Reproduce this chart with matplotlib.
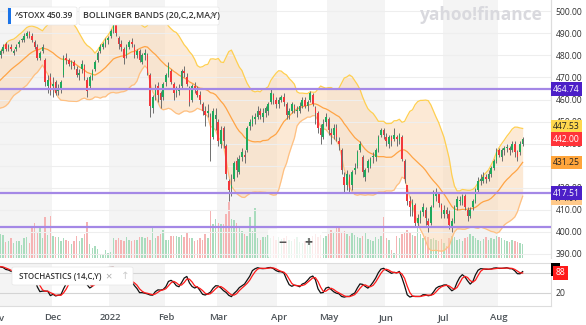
import numpy as np
import pandas as pd
import matplotlib
matplotlib.use('Agg')
import matplotlib.pyplot as plt
import matplotlib.patches as patches

plt.rcParams['font.family'] = ['Open Sans', 'DejaVu Sans']

# closes 2021-10-06 .. 2021-11-02, only used to start the indicators
close_warmup = [458, 460, 461, 460, 459, 462, 466, 467, 466, 468,
                469, 468, 470, 471, 473, 472, 473, 475, 477, 479]

# daily candles 2021-11-03 .. 2022-08-12 (Nov, Dec, Jan, ... Aug)
opens = [480, 482, 485, 484, 484, 481, 483, 485, 487, 487, 489, 490, 489, 486, 484, 479, 482, 478, 466, 470,
         466, 468, 464, 465, 471, 479, 478, 476, 477, 474, 471, 474, 475, 469, 466, 470, 474, 478, 482, 484, 485, 487,
         489, 491, 494, 488, 485, 483, 480, 484, 486, 484, 480, 482, 477, 480, 480, 471, 456, 462, 466, 463, 461,
         468, 471, 473, 467, 463, 464, 466, 473, 470, 465, 460, 466, 464, 462, 458, 455, 454, 452, 443, 451,
         450, 440, 447, 439, 423, 420, 424, 432, 427, 434, 435, 437, 448, 449, 451, 452, 455, 452, 454, 455, 459, 462, 460,
         458, 460, 461, 458, 453, 455, 457, 455, 455, 457, 460, 457, 460, 462, 456, 454, 447, 443, 450,
         451, 445, 444, 447, 441, 437, 425, 421, 425, 421, 428, 430, 437, 434, 425, 429, 430, 434, 434, 437, 444, 446,
         443, 440, 443, 442, 443, 441, 443, 432, 421, 414, 410, 412, 404, 406, 409, 410, 405, 404, 412, 416, 417, 412,
         408, 410, 408, 402, 405, 411, 414, 413, 416, 410, 407, 411, 414, 419, 423, 423, 425, 424, 426, 429, 432,
         437, 434, 437, 438, 438, 437, 440, 436, 436, 440]
highs = [483, 485, 486, 485, 485, 483, 485, 487, 488, 490, 491, 491, 490, 487, 485, 482, 485, 479, 471, 472,
         470, 469, 467, 469, 480, 481, 479, 478, 478, 475, 474, 478, 476, 470, 471, 474, 478, 482, 485, 486, 488, 489,
         492, 495, 495, 489, 487, 484, 485, 487, 488, 485, 483, 483, 481, 483, 481, 472, 462, 467, 468, 464, 468,
         472, 477, 474, 468, 466, 467, 474, 475, 472, 466, 467, 468, 466, 464, 459, 457, 458, 454, 456, 456,
         451, 448, 448, 440, 424, 426, 432, 434, 435, 438, 437, 448, 451, 453, 454, 457, 456, 456, 457, 459, 465, 463, 461,
         461, 462, 463, 459, 456, 459, 458, 457, 459, 461, 461, 460, 464, 463, 457, 455, 449, 451, 454,
         452, 447, 449, 449, 443, 438, 427, 428, 426, 428, 431, 437, 441, 435, 429, 433, 434, 436, 438, 444, 447, 447,
         445, 444, 444, 447, 444, 445, 444, 433, 421, 416, 415, 413, 408, 410, 413, 411, 406, 412, 419, 420, 418, 413,
         412, 411, 410, 406, 412, 416, 416, 417, 417, 411, 411, 415, 420, 425, 426, 427, 426, 428, 430, 433, 438,
         438, 438, 439, 440, 439, 441, 441, 437, 441, 443]
lows = [479, 481, 482, 482, 482, 480, 482, 484, 486, 486, 488, 488, 486, 483, 478, 478, 481, 466, 463, 462,
        461, 462, 462, 463, 470, 476, 475, 474, 474, 470, 469, 472, 469, 461, 465, 469, 473, 477, 481, 483, 484, 485,
        488, 490, 489, 483, 482, 476, 479, 483, 484, 479, 479, 477, 476, 478, 471, 452, 454, 460, 459, 456, 460,
        466, 470, 467, 460, 461, 462, 465, 470, 466, 457, 459, 463, 461, 458, 453, 448, 452, 432, 442, 446,
        439, 438, 438, 424, 414, 416, 423, 425, 426, 432, 431, 436, 446, 448, 449, 451, 451, 450, 452, 453, 458, 458, 456,
        456, 459, 457, 451, 451, 454, 454, 452, 454, 456, 456, 455, 459, 457, 449, 445, 440, 442, 448,
        444, 440, 442, 441, 437, 426, 418, 419, 418, 419, 426, 429, 436, 425, 423, 427, 429, 431, 432, 436, 443, 442,
        439, 438, 439, 441, 439, 440, 432, 422, 412, 407, 407, 402, 402, 404, 407, 403, 400, 403, 411, 414, 411, 406,
        406, 406, 401, 400, 404, 410, 412, 412, 410, 405, 406, 410, 413, 418, 421, 422, 422, 423, 425, 428, 431,
        434, 432, 435, 436, 435, 436, 434, 432, 435, 439]
closes = [482, 484, 483, 484, 483, 482, 484, 486, 487, 489, 490, 489, 487, 484, 479, 481, 484, 468, 469, 464,
          467, 463, 465, 468, 479, 478, 476, 477, 475, 471, 472, 476, 470, 464, 470, 473, 477, 481, 484, 485, 487, 488,
          491, 494, 490, 485, 484, 479, 484, 486, 485, 480, 482, 478, 480, 481, 472, 457, 461, 465, 462, 460, 467,
          471, 475, 468, 463, 464, 465, 473, 472, 467, 459, 466, 465, 462, 460, 455, 453, 455, 442, 455, 453,
          441, 446, 441, 426, 419, 421, 431, 428, 433, 436, 434, 447, 450, 452, 452, 455, 453, 454, 456, 458, 463, 460, 458,
          460, 461, 459, 453, 455, 458, 456, 455, 457, 460, 457, 459, 463, 458, 454, 447, 444, 449, 452,
          446, 444, 447, 443, 440, 428, 421, 426, 420, 427, 429, 436, 440, 427, 428, 432, 433, 434, 437, 443, 446, 444,
          441, 443, 441, 444, 442, 444, 433, 424, 414, 411, 413, 404, 406, 409, 411, 406, 403, 411, 417, 418, 413, 409,
          410, 408, 403, 405, 411, 415, 414, 416, 411, 407, 410, 414, 419, 423, 424, 425, 424, 426, 429, 432, 436,
          435, 437, 438, 438, 437, 440, 436, 434, 440, 442]
volumes = [24, 23, 16, 17, 20, 15, 17, 17, 13, 20, 21, 15, 32, 35, 26, 32, 20, 41, 23, 42,
           22, 21, 21, 17, 20, 18, 17, 14, 17, 22, 17, 20, 24, 36, 14, 10, 12, 9, 3, 3, 8, 5,
           6, 20, 18, 20, 18, 17, 21, 18, 17, 18, 18, 21, 21, 20, 21, 18, 30, 20, 22, 24, 28,
           18, 18, 22, 22, 22, 21, 23, 21, 25, 20, 20, 17, 18, 20, 18, 24, 20, 47, 34,
           39, 35, 34, 34, 44, 56, 39, 38, 35, 32, 27, 24, 22, 41, 27, 50, 20, 18, 21, 21, 23,
           20, 22, 18, 21, 19, 20, 22, 18, 17, 19, 21, 16, 15, 17, 20, 19, 22, 24, 21,
           23, 20, 22, 24, 28, 25, 30, 32, 26, 27, 24, 22, 26, 23, 21, 20, 22, 25, 19, 18, 17, 21,
           19, 22, 41, 20, 18, 8, 5, 22, 20, 24, 26, 28, 25, 23, 22, 31, 24, 20, 22, 21, 19, 20, 18,
           17, 19, 15, 12, 20, 22, 21, 18, 19, 17, 20, 21, 24, 22, 20, 18, 17, 19, 21, 18, 20,
           19, 22, 21, 20, 18, 17, 16, 18, 17, 16, 15, 14]

holidays = ['2021-12-24', '2022-04-15', '2022-04-18']

# drawn price lines and the right side value tags
level_lines = [464.74, 417.51, 402.0]
tag_values = [464.74, 447.53, 442.00, 431.25, 414.97, 417.51]
tag_texts = ['464.74', '447.53', '442.00', '431.25', '414.97', '417.51']
tag_colors = ['#4c1fc8', '#ffd84e', '#ff3339', '#ffa53b', '#ffc98a', '#4c1fc8']
tag_textcolors = ['white', '#222222', 'white', '#222222', '#222222', 'white']
stoch_tag_text = '88'

n_warm = len(close_warmup)
dates = pd.bdate_range('2021-10-06', '2022-08-12')
dates = dates[~dates.isin(pd.to_datetime(holidays))]
assert len(dates) == n_warm + len(closes)
for arr in (opens, highs, lows, volumes):
    assert len(arr) == len(closes), len(arr)

# indicators
c_all = pd.Series(close_warmup + closes, dtype=float)
h_all = pd.Series(close_warmup + highs, dtype=float)
l_all = pd.Series(close_warmup + lows, dtype=float)
x_all = np.arange(len(c_all)) - n_warm
mid = c_all.rolling(20).mean()
sd = c_all.rolling(20).std(ddof=0)
upper = mid + 2*sd
lower = mid - 2*sd
lo14 = l_all.rolling(14).min()
hi14 = h_all.rolling(14).max()
k_raw = (c_all - lo14)/(hi14 - lo14)*100
k_slow = k_raw.rolling(3).mean()
d_slow = k_slow.rolling(3).mean()

W, H = 586, 325
fig = plt.figure(figsize=(W/100, H/100), dpi=100)
ax_vol = fig.add_axes([0, 67/H, 551/W, 258/H])
ax = ax_vol.twinx()
ax_st = fig.add_axes([0, 19/H, 551/W, 43/H])

x = np.arange(len(closes))
o = np.array(opens, float)
h = np.array(highs, float)
l = np.array(lows, float)
c = np.array(closes, float)
up = c >= o
green = '#1fa95c'
red = '#f2373b'
fs = 6.2

# month shading
month_id = dates.year*12 + dates.month
starts = np.where(np.r_[True, month_id[1:] != month_id[:-1]])[0]
start_idx = starts - n_warm
for j, s in enumerate(start_idx):
    e = start_idx[j+1] if j+1 < len(start_idx) else 260
    if dates[starts[j]].month % 2 == 1:
        for a in (ax_vol, ax_st):
            a.axvspan(s - 0.5, e - 0.5, color='#f4f4f4', lw=0, zorder=0)

# volume
ax_vol.bar(x, volumes, width=0.55, color=np.where(up, '#a9dcbd', '#f5b3b3'), lw=0, zorder=1)
ax_vol.set_ylim(0, max(volumes)*4.6)
ax_vol.set_yticks([])

ax.set_zorder(ax_vol.get_zorder() + 1)
ax.patch.set_visible(False)

# bollinger
ax.fill_between(x_all, lower, upper, color='#fbd5ad', alpha=0.5, lw=0, zorder=1)
ax.plot(x_all, upper, color='#ffcf50', lw=0.9, zorder=2)
ax.plot(x_all, mid, color='#ffa445', lw=0.9, zorder=2)
ax.plot(x_all, lower, color='#ffc081', lw=0.9, zorder=2)

# candles
ax.vlines(x, l, h, color='#6e6e6e', lw=0.7, zorder=3)
ax.bar(x, np.maximum(np.abs(c - o), 0.3), bottom=np.minimum(o, c), width=0.62,
       color=np.where(up, green, red), lw=0, zorder=4)

for lev in level_lines:
    ax.axhline(lev, color='#a488e6', lw=1.6, zorder=5)

ax.set_xlim(-0.2, 209.8)
ax.set_ylim(388.0, 505.2)
ax.set_yticks(np.arange(390, 501, 10))
ax.set_yticklabels(['%.2f' % v for v in np.arange(390, 501, 10)])
ax.tick_params(axis='y', length=0, pad=3.5, labelsize=fs, labelcolor='#333333')
ax.grid(axis='y', color='#eeeeee', lw=0.8, zorder=0)
ax.set_xticks([])
ax_vol.set_xticks([])
for a in (ax, ax_vol):
    for side in ('top', 'left', 'bottom'):
        a.spines[side].set_visible(False)
    a.spines['right'].set_color('#dddddd')

for val, txt, fc, tc in zip(tag_values, tag_texts, tag_colors, tag_textcolors):
    ax.annotate(txt, xy=(1, val), xycoords=('axes fraction', 'data'), xytext=(1.4, 0),
                textcoords='offset points', ha='left', va='center', fontsize=fs,
                color=tc, annotation_clip=False, zorder=10,
                bbox=dict(boxstyle='square,pad=0.25', fc=fc, ec='none'))

# stochastics
ax_st.plot(x_all, k_slow, color='#111111', lw=0.9, zorder=3)
ax_st.plot(x_all, d_slow, color='#ff1a1a', lw=0.9, zorder=3)
ax_st.set_xlim(-0.2, 209.8)
ax_st.set_ylim(-19, 110)
ax_st.axhline(80, color='#d4d4d4', lw=0.8, zorder=1)
ax_st.axhline(20, color='#d4d4d4', lw=0.8, zorder=1)
ax_st.yaxis.tick_right()
ax_st.set_yticks([20, 80])
ax_st.tick_params(axis='y', length=0, pad=3.5, labelsize=fs, labelcolor='#333333')
for side in ('top', 'bottom', 'right'):
    ax_st.spines[side].set_color('#dddddd')
ax_st.spines['left'].set_visible(False)
last_k = k_slow.iloc[-1]
ax_st.annotate(' ', xy=(1, last_k + 6), xycoords=('axes fraction', 'data'), xytext=(2.6, 0),
               textcoords='offset points', ha='left', va='center', fontsize=4.5,
               annotation_clip=False, bbox=dict(boxstyle='square,pad=0.6', fc='black', ec='none'))
ax_st.annotate(stoch_tag_text, xy=(1, last_k - 4), xycoords=('axes fraction', 'data'),
               xytext=(3.0, 0), textcoords='offset points', ha='left', va='center', fontsize=fs,
               color='white', annotation_clip=False,
               bbox=dict(boxstyle='square,pad=0.3', fc='#ff1a1a', ec='none'))

month_names = ['Jan', 'Feb', 'Mar', 'Apr', 'May', 'Jun', 'Jul', 'Aug', 'Sep', 'Oct', 'Nov', 'Dec']
tick_pos, tick_lab = [], []
for j, s in enumerate(start_idx):
    d = dates[starts[j]]
    lab = str(d.year) if d.month == 1 else month_names[d.month - 1]
    if s >= 0:
        tick_pos.append(s)
        tick_lab.append(lab)
    elif s > -5:
        ax_st.text(s, -0.30, lab, transform=ax_st.get_xaxis_transform(), ha='center', va='center',
                   fontsize=6.8, fontweight='semibold', color='#4d5358', clip_on=False)
ax_st.set_xticks(tick_pos)
ax_st.set_xticklabels(tick_lab)
ax_st.tick_params(axis='x', length=0, pad=5, labelsize=6.8, labelcolor='#4d5358')
for t in ax_st.get_xticklabels():
    t.set_fontweight('semibold')


def fx(px):
    return px/W


def fy(py):
    return 1 - py/H


def box(x0, y0, x1, y1):
    fig.add_artist(patches.FancyBboxPatch((fx(x0), fy(y1)), fx(x1) - fx(x0), fy(y0) - fy(y1),
                                          boxstyle='round,pad=0,rounding_size=0.004',
                                          transform=fig.transFigure, fc='white', ec='#e6e6e6', lw=0.5,
                                          zorder=20))


# legend chips
box(8, 7, 77, 25)
fig.add_artist(patches.Rectangle((fx(8), fy(24)), fx(2.5), fy(8) - fy(24), transform=fig.transFigure,
                                 fc='#1a73e8', ec='none', zorder=21))
fig.text(fx(15), fy(16), '^STOXX', fontsize=6.0, fontweight='semibold', color='#333333', va='center', zorder=22)
fig.text(fx(47), fy(16), '450.39', fontsize=6.0, fontweight='semibold', color='#333333', va='center', zorder=22)
box(79, 7, 219, 25)
fig.text(fx(83), fy(16), 'BOLLINGER BANDS (20,C,2,MA,Y)', fontsize=6.3, fontweight='semibold',
         color='#333333', va='center', zorder=22)
fig.text(fx(209), fy(16), '×', fontsize=8, color='#888888', va='center', zorder=22)

box(12, 267, 133, 285)
fig.text(fx(19), fy(276.5), 'STOCHASTICS (14,C,Y)', fontsize=5.8, fontweight='semibold',
         color='#333333', va='center', zorder=22)
fig.text(fx(105), fy(276.5), '×', fontsize=8, color='#aaaaaa', va='center', zorder=22)
fig.text(fx(121), fy(276.5), '↑', fontsize=7.5, color='#cccccc', va='center', zorder=22)

# watermark
fig.text(fx(481), fy(15), 'yahoo!finance', fontsize=12.5, fontweight='bold', color='#d9d9de',
         ha='center', va='center', zorder=22)

# zoom control
fig.add_artist(patches.FancyBboxPatch((fx(268), fy(258)), fx(322) - fx(268), fy(229) - fy(258),
                                      boxstyle='round,pad=0,rounding_size=0.006',
                                      transform=fig.transFigure, fc='white', ec='none', alpha=0.75,
                                      zorder=20))
fig.text(fx(282), fy(243), '−', fontsize=10, fontweight='bold', color='#555555', ha='center',
         va='center', zorder=22)
fig.text(fx(308), fy(243), '+', fontsize=10, fontweight='bold', color='#555555', ha='center',
         va='center', zorder=22)

fig.savefig('out.png', dpi=100)
